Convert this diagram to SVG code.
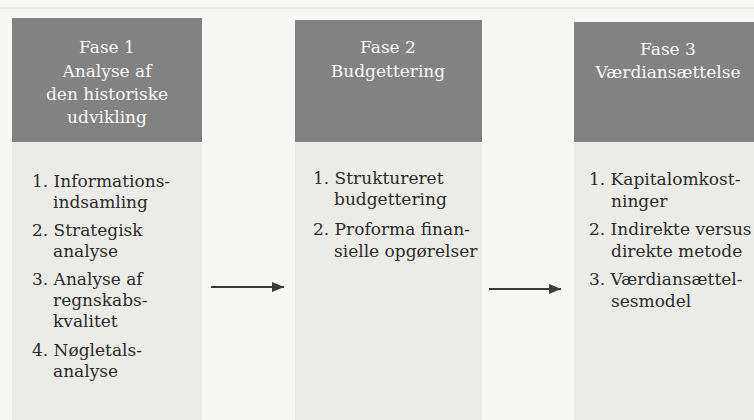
<svg xmlns="http://www.w3.org/2000/svg" width="754" height="420" viewBox="0 0 754 420">
<defs>
<style>
.hd{fill:#828283}
.bd{fill:#ebebe8}
text{font-family:'DejaVu Serif','Liberation Serif','Noto Serif',serif}
.ht{font-size:17px;fill:#f8f8f8;text-anchor:middle}
.bt{font-size:17px;fill:#2b2b2b}
.ar{stroke:#3a3a3a;stroke-width:2;fill:none}
</style>
<marker id="ah" viewBox="0 0 12 10" refX="12" refY="5" markerWidth="12" markerHeight="10" markerUnits="userSpaceOnUse" orient="auto">
<path d="M0,0 L12,5 L0,10 Z" fill="#3a3a3a"/>
</marker>
</defs>
<rect x="0" y="0" width="754" height="420" fill="#f7f7f5"/>
<line x1="0" y1="8" x2="754" y2="8" stroke="#e2e2e0" stroke-width="1"/>

<g id="fase1">
<rect class="bd" x="12" y="142" width="190" height="278"/>
<rect class="hd" x="12" y="18" width="190" height="124"/>
<text class="ht" x="107" y="53">Fase 1</text>
<text class="ht" x="107" y="77">Analyse af</text>
<text class="ht" x="107" y="100">den historiske</text>
<text class="ht" x="107" y="123">udvikling</text>
<text class="bt" x="32" y="187" xml:space="preserve">1. Informations-</text>
<text class="bt" x="53" y="208">indsamling</text>
<text class="bt" x="32" y="236" xml:space="preserve">2. Strategisk</text>
<text class="bt" x="53" y="257">analyse</text>
<text class="bt" x="32" y="285" xml:space="preserve">3. Analyse af</text>
<text class="bt" x="53" y="306">regnskabs-</text>
<text class="bt" x="53" y="327">kvalitet</text>
<text class="bt" x="32" y="356" xml:space="preserve">4. Nøgletals-</text>
<text class="bt" x="53" y="377">analyse</text>
</g>

<g id="fase2">
<rect class="bd" x="295" y="142" width="187" height="278"/>
<rect class="hd" x="295" y="20" width="187" height="122"/>
<text class="ht" x="388" y="53">Fase 2</text>
<text class="ht" x="388" y="77">Budgettering</text>
<text class="bt" x="313" y="184" xml:space="preserve">1. Struktureret</text>
<text class="bt" x="334" y="205">budgettering</text>
<text class="bt" x="313" y="235" xml:space="preserve">2. Proforma finan-</text>
<text class="bt" x="334" y="257">sielle opgørelser</text>
</g>

<g id="fase3">
<rect class="bd" x="574" y="142" width="180" height="278"/>
<rect class="hd" x="574" y="22" width="180" height="120"/>
<text class="ht" x="668" y="55">Fase 3</text>
<text class="ht" x="668" y="78">Værdiansættelse</text>
<text class="bt" x="589" y="185" xml:space="preserve">1. Kapitalomkost-</text>
<text class="bt" x="611" y="207">ninger</text>
<text class="bt" x="589" y="235" xml:space="preserve">2. Indirekte versus</text>
<text class="bt" x="611" y="257">direkte metode</text>
<text class="bt" x="589" y="285" xml:space="preserve">3. Værdiansættel-</text>
<text class="bt" x="611" y="307">sesmodel</text>
</g>

<g id="connectors">
<line class="ar" x1="211" y1="287" x2="284" y2="287" marker-end="url(#ah)"/>
<line class="ar" x1="489" y1="289" x2="561" y2="289" marker-end="url(#ah)"/>
</g>
</svg>
